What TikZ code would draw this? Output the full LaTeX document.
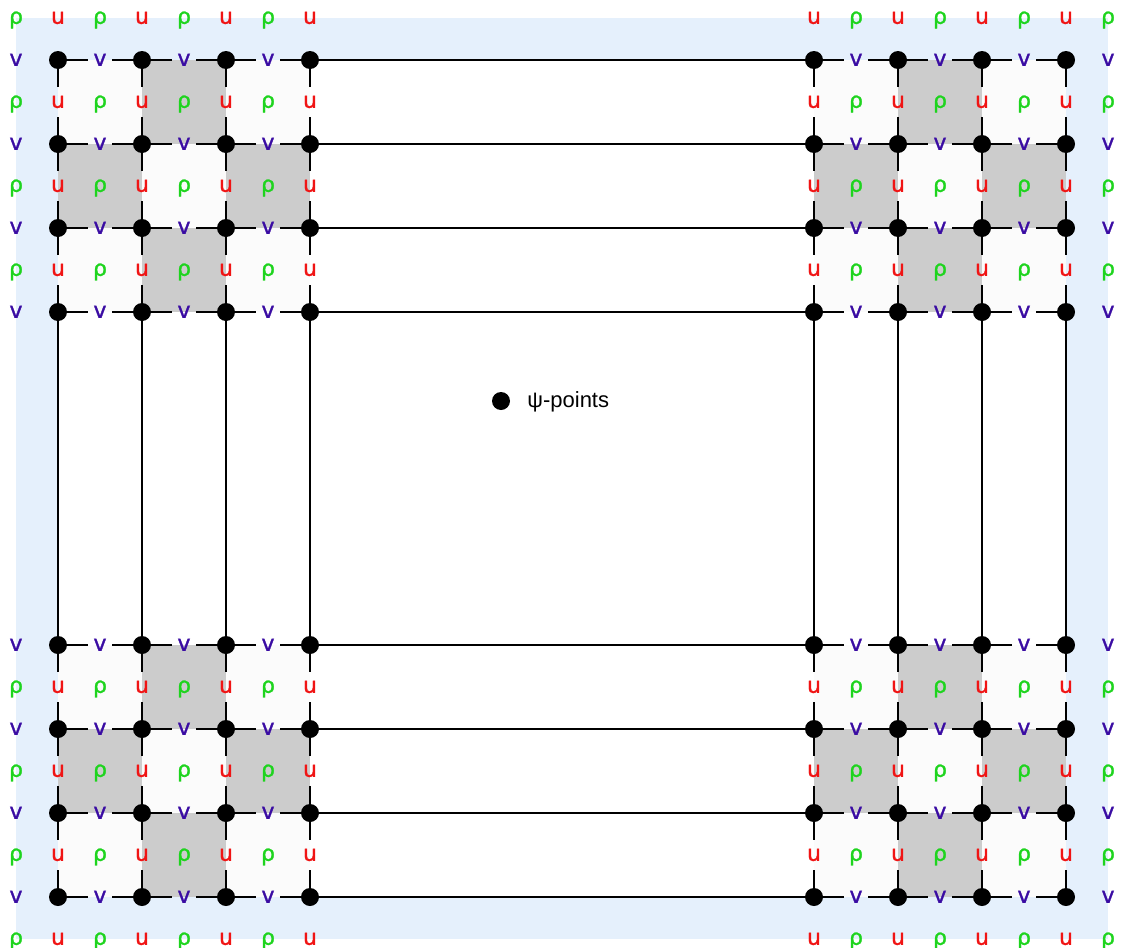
\documentclass[tikz,border=0pt]{standalone}
\usepackage{fontspec}
\setmainfont{Liberation Sans}
\newfontfamily\lblfont[FakeBold=1.2]{DejaVu Sans}
\definecolor{bgblue}{HTML}{E5F0FC}
\definecolor{cellgray}{HTML}{CCCCCC}
\definecolor{celllight}{HTML}{FBFBFB}
\definecolor{rhogreen}{HTML}{1ED41E}
\definecolor{ured}{HTML}{F01414}
\definecolor{vblue}{HTML}{3A0CA3}
\newcommand\drawblock[5]{%
  \foreach \i in {0,1,2}{\foreach \j in {0,1,2}{%
    \pgfmathtruncatemacro\odd{mod(\i+\j,2)}%
    \ifnum\odd=1 \def\cc{cellgray}\else\def\cc{celllight}\fi
    \fill[\cc] ({#2+84*\i},{#3+84*\j}) rectangle +(84,84);
  }}
  \foreach \i in {0,...,3}{\foreach \j in {0,...,3}{%
    \node[dot] (#1d\i\j) at ({#2+84*\i},{#3+84*\j}) {};
  }}
  \foreach \k in {0,...,3}{\foreach \l in {0,...,3}{%
    \pgfmathtruncatemacro\cx{#2+42+84*(\k+(#4))}%
    \pgfmathtruncatemacro\cy{#3+42+84*(\l+(#5))}%
    \pgfmathtruncatemacro\kn{\k+(#4)+1}%
    \pgfmathtruncatemacro\ln{\l+(#5)+1}%
    \node[rholbl] (#1r\kn\ln) at (\cx,\cy) {ρ};
    \node[ulbl] (#1u\k\ln) at ({#2+84*\k},\cy) {u};
    \node[vlbl] (#1v\kn\l) at (\cx,{#3+84*\l}) {v};
  }}
  \foreach \j in {0,...,3}{\foreach \i in {0,1,2}{%
    \pgfmathtruncatemacro\ii{\i+1}%
    \draw[edge] (#1d\i\j) -- (#1v\ii\j) -- (#1d\ii\j);
    \draw[edge] (#1d\j\i) -- (#1u\j\ii) -- (#1d\j\ii);
  }}
}
\begin{document}
\begin{tikzpicture}[x=0.5pt,y=-0.5pt,
  dot/.style={circle,fill=black,inner sep=0pt,minimum size=9pt},
  lbl/.style={inner sep=0pt,minimum width=12pt,minimum height=15pt,text height=5.8pt,text depth=0pt,font=\lblfont\fontsize{11}{12}\selectfont},
  rholbl/.style={lbl,text=rhogreen},
  ulbl/.style={lbl,text=ured},
  vlbl/.style={lbl,text=vblue},
  edge/.style={line width=1.3pt,black}]
\useasboundingbox (0,0) rectangle (1121,948);
\fill[bgblue] (16,18) rectangle (1108,939);
\fill[white] (58,60) rectangle (1066,897);
\drawblock{TL}{58}{60}{-1}{-1}
\drawblock{TR}{814}{60}{0}{-1}
\drawblock{BL}{58}{645}{-1}{0}
\drawblock{BR}{814}{645}{0}{0}
\foreach \j in {0,...,3}{%
  \draw[edge] (TLd3\j) -- (TRd0\j);
  \draw[edge] (BLd3\j) -- (BRd0\j);
  \draw[edge] (TLd\j3) -- (BLd\j0);
  \draw[edge] (TRd\j3) -- (BRd\j0);
}
\node[dot] (legdot) at (501,401) {};
\node[anchor=base west,inner sep=0pt,font=\fontsize{11}{13}\selectfont] (legtxt) at (527,407) {ψ-points};
\end{tikzpicture}
\end{document}
